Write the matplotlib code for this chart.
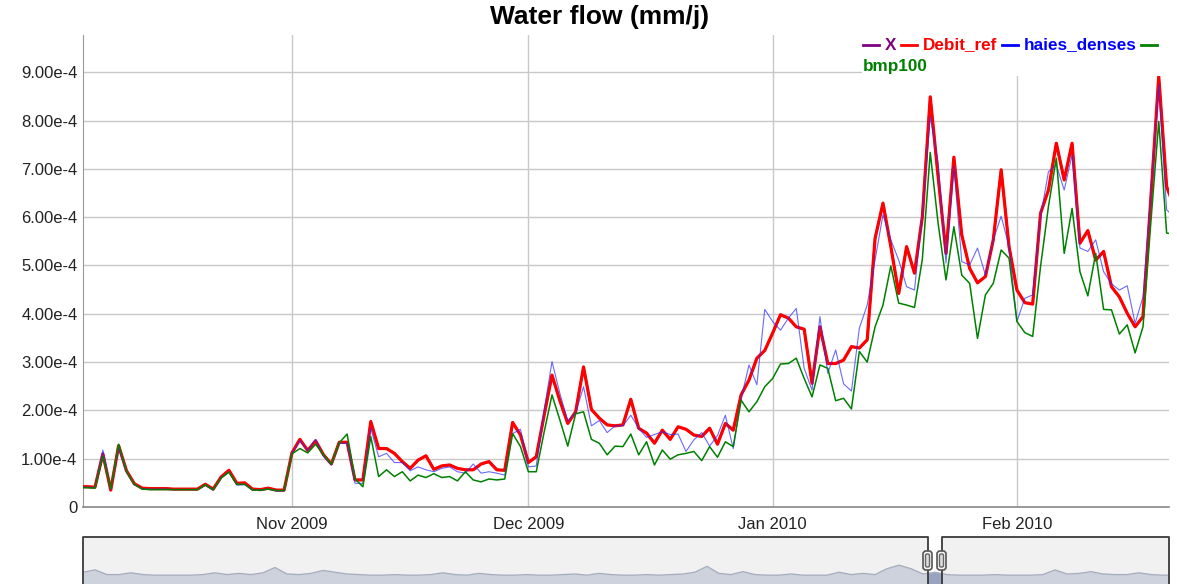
import matplotlib
matplotlib.use("Agg")
import matplotlib.pyplot as plt
import matplotlib.dates as mdates
from matplotlib.lines import Line2D
from matplotlib.patches import Rectangle, FancyBboxPatch
from matplotlib.transforms import IdentityTransform
import numpy as np
import pandas as pd

plt.rcParams['font.family'] = ['Liberation Sans', 'DejaVu Sans']

# daily values, in units of 1e-4 mm/j, from 2009-10-05
start_day = '2009-10-05'
debit_ref = [
    0.42, 0.42, 0.41, 1.10, 0.35, 1.27, 0.75, 0.48, 0.39, 0.38, 0.38, 0.38, 0.37, 0.37,
    0.37, 0.37, 0.47, 0.37, 0.62, 0.76, 0.49, 0.50, 0.37, 0.36, 0.39, 0.35, 0.35,
    1.12, 1.40, 1.17, 1.37, 1.08, 0.89, 1.34, 1.34, 0.56, 0.56, 1.77, 1.21, 1.21, 1.11,
    0.94, 0.80, 0.97, 1.06, 0.78, 0.85, 0.87, 0.80, 0.77, 0.77, 0.89, 0.94, 0.77, 0.76,
    1.75, 1.49,
    0.92, 1.04, 1.90, 2.73, 2.20, 1.73, 1.97, 2.90, 2.02, 1.84, 1.70, 1.68, 1.70, 2.23,
    1.63, 1.53, 1.32, 1.59, 1.40, 1.66, 1.61, 1.49, 1.46, 1.63, 1.30, 1.73, 1.59, 2.32,
    2.63, 3.08, 3.24,
    3.60, 3.98, 3.91, 3.73, 3.68, 2.56, 3.73, 2.97, 2.97, 3.04, 3.32, 3.29, 3.46, 5.56,
    6.29, 5.39, 4.42, 5.39, 4.84, 6.01, 8.49, 6.84, 5.25, 7.24, 5.63, 4.94, 4.64, 4.77,
    5.53, 6.98, 5.39,
    4.49, 4.23, 4.20, 6.08, 6.56, 7.53, 6.77, 7.53, 5.46, 5.72, 5.11, 5.29, 4.56, 4.35,
    4.01, 3.73, 3.94, 6.40, 8.91, 6.63, 6.20,
]
haies_denses = [
    0.41, 0.41, 0.40, 1.18, 0.36, 1.22, 0.72, 0.46, 0.38, 0.37, 0.37, 0.37, 0.36, 0.36,
    0.36, 0.36, 0.45, 0.35, 0.60, 0.73, 0.45, 0.46, 0.35, 0.35, 0.37, 0.33, 0.33,
    1.12, 1.38, 1.17, 1.40, 1.05, 0.87, 1.32, 1.32, 0.49, 0.49, 1.63, 1.04, 1.11, 0.92,
    0.92, 0.75, 0.83, 0.77, 0.73, 0.80, 0.83, 0.73, 0.70, 0.89, 0.70, 0.73, 0.70, 0.66,
    1.52, 1.61,
    0.83, 0.85, 2.00, 3.01, 2.35, 1.78, 1.95, 2.49, 1.68, 1.79, 1.54, 1.68, 1.68, 1.90,
    1.63, 1.44, 1.50, 1.56, 1.50, 1.51, 1.15, 1.39, 1.54, 1.26, 1.48, 1.90, 1.21, 2.25,
    2.94, 2.53, 4.09,
    3.84, 3.66, 3.91, 4.11, 2.87, 2.42, 3.94, 2.77, 3.25, 2.55, 2.40, 3.70, 4.18, 5.11,
    6.05, 5.53, 5.11, 4.56, 4.49, 6.08, 8.08, 7.12, 5.05, 7.05, 5.08, 5.01, 5.36, 4.80,
    5.53, 6.02, 5.39,
    3.84, 4.32, 4.39, 6.01, 6.94, 7.08, 6.56, 7.29, 5.36, 5.29, 5.53, 4.87, 4.62, 4.49,
    4.58, 3.80, 4.35, 6.50, 8.74, 6.15, 6.00,
]
bmp100 = [
    0.40, 0.40, 0.39, 1.05, 0.38, 1.30, 0.74, 0.47, 0.37, 0.36, 0.36, 0.36, 0.36, 0.36,
    0.36, 0.36, 0.46, 0.36, 0.60, 0.72, 0.47, 0.47, 0.35, 0.35, 0.37, 0.34, 0.34,
    1.10, 1.21, 1.12, 1.30, 1.08, 0.89, 1.33, 1.51, 0.58, 0.42, 1.46, 0.63, 0.77, 0.63,
    0.73, 0.54, 0.66, 0.61, 0.69, 0.61, 0.63, 0.54, 0.73, 0.56, 0.52, 0.58, 0.56, 0.58,
    1.52, 1.25,
    0.73, 0.73, 1.55, 2.32, 1.80, 1.26, 1.93, 1.97, 1.40, 1.32, 1.08, 1.26, 1.25, 1.51,
    1.08, 1.35, 0.87, 1.18, 0.99, 1.08, 1.11, 1.15, 0.96, 1.25, 1.03, 1.35, 1.25, 2.21,
    1.97, 2.18, 2.49,
    2.66, 2.96, 2.97, 3.08, 2.66, 2.28, 2.94, 2.87, 2.20, 2.25, 2.03, 3.22, 3.00, 3.73,
    4.18, 4.99, 4.22, 4.18, 4.13, 5.13, 7.34, 5.87, 4.70, 5.80, 4.80, 4.63, 3.49, 4.39,
    4.63, 5.32, 5.15,
    3.84, 3.61, 3.53, 4.98, 6.22, 7.22, 5.25, 6.18, 4.87, 4.37, 5.25, 4.09, 4.08, 3.58,
    3.77, 3.19, 3.73, 5.90, 7.98, 5.67, 5.65,
]
# X lies under Debit_ref everywhere
x_series = debit_ref

# range selector overview (whole record, relative heights)
overview = [
    1.0, 1.2, 0.8, 0.8, 0.95, 0.8, 0.75, 0.75, 0.75, 0.75, 0.8, 0.95, 0.8, 0.9, 0.8,
    0.95, 1.4, 0.85, 0.8, 0.9, 1.15, 1.0, 0.85, 0.8, 0.75, 0.75, 0.8, 0.75, 0.75, 0.8,
    0.95, 0.8, 0.75, 0.9, 0.8, 0.75, 0.75, 0.8, 0.75, 0.75, 0.8, 0.85, 0.75, 0.9, 0.8,
    0.75, 0.75, 0.8, 0.75, 0.8, 0.85, 1.0, 1.5, 0.9, 0.8, 1.05, 0.8, 0.75, 0.75, 0.85,
    0.75, 0.75, 0.75, 1.0, 0.8, 0.9, 0.8, 1.3, 1.6, 1.3, 0.85, 1.0, 0.8, 0.75, 0.75,
    0.75, 0.8, 0.75, 0.75, 0.75, 0.8, 1.2, 0.85, 0.9, 1.05, 0.85, 0.8, 0.8, 0.95, 0.8,
    0.75, 0.75,
]

y_ticks = [0, 1e-4, 2e-4, 3e-4, 4e-4, 5e-4, 6e-4, 7e-4, 8e-4, 9e-4]
y_labels = ['0', '1.00e-4', '2.00e-4', '3.00e-4', '4.00e-4', '5.00e-4',
            '6.00e-4', '7.00e-4', '8.00e-4', '9.00e-4']

W, H = 1177, 584
pix = IdentityTransform()


def fx(px):
    return px / W


def fy(py):
    return 1 - py / H


fig = plt.figure(figsize=(W / 100, H / 100), dpi=100)
fig.patch.set_facecolor('white')

# main plot
ax = fig.add_axes([fx(83), fy(507), fx(1169) - fx(83), fy(35) - fy(507)])
days = pd.date_range(start_day, periods=len(debit_ref), freq='D')
scale = 1e-4
ax.plot(days, np.array(x_series) * scale, color='#800080', lw=1.5, zorder=3)
ax.plot(days, np.array(debit_ref) * scale, color='#ff0000', lw=2.3, zorder=4,
        solid_joinstyle='round')
ax.plot(days, np.array(haies_denses) * scale, color='#2a2aff', lw=0.8, alpha=0.7, zorder=5)
ax.plot(days, np.array(bmp100) * scale, color='#008000', lw=1.1, zorder=6)

nov1 = pd.Timestamp('2009-11-01')
ax.set_xlim(nov1 - pd.Timedelta(days=26.52), nov1 + pd.Timedelta(days=111.3))
ax.set_ylim(0, 9.77e-4)
ax.set_yticks(y_ticks)
ax.set_yticklabels(y_labels)
ax.xaxis.set_major_locator(mdates.MonthLocator())
ax.xaxis.set_major_formatter(mdates.DateFormatter('%b %Y'))
ax.tick_params(axis='both', length=0, labelsize=12, colors='#222222')
ax.tick_params(axis='y', pad=4)
ax.tick_params(axis='x', pad=7)
ax.grid(True, color='#c8c8c8', lw=1.0)
ax.set_axisbelow(True)
for s in ['top', 'right']:
    ax.spines[s].set_visible(False)
ax.spines['left'].set_color('#999999')
ax.spines['bottom'].set_color('#888888')
ax.spines['bottom'].set_linewidth(1.2)

# title
fig.text(600, H - 17, 'Water flow (mm/j)', transform=pix, ha='center', va='center',
         fontsize=19, fontweight='bold')

# legend
fig.patches.append(Rectangle((862, H - 76), 310, 41, transform=pix,
                             facecolor='white', edgecolor='none', zorder=1))
row1 = H - 45
legend_items = [
    (863, 885, 'X', '#800080'),
    (901, 923, 'Debit_ref', '#ff0000'),
    (1002, 1024, 'haies_denses', '#0000ff'),
    (1141, None, None, '#008000'),
]
for dash_x, text_x, name, col in legend_items:
    fig.lines.append(Line2D([dash_x, dash_x + 16], [row1, row1], transform=pix,
                            color=col, lw=2, zorder=3))
    if name:
        fig.text(text_x, row1, name, transform=pix, ha='left', va='center',
                 fontsize=12.3, fontweight='bold', color=col)
fig.text(863, H - 66, 'bmp100', transform=pix, ha='left', va='center',
         fontsize=12.3, fontweight='bold', color='#008000')

# range selector
mx = fig.add_axes([fx(83), 0, fx(1169) - fx(83), 47 / H])
idx = np.arange(len(overview))
mx.set_xlim(0, 1086 / 12)
mx.set_ylim(0, 4)
mx.set_facecolor('#f1f1f1')
sel0, sel1 = (928 - 83) / 12, (942 - 83) / 12
mx.axvspan(sel0, sel1, color='white', lw=0, zorder=0.5)
mx.fill_between(idx, 0, overview, color='#ced2dc', lw=0, zorder=1)
mx.plot(idx, overview, color='#a7aebf', lw=1, zorder=2)
dark = mx.fill_between(idx, 0, overview, color='#98a3bf', lw=0, zorder=3)
dark.set_clip_path(Rectangle((sel0, 0), sel1 - sel0, 4, transform=mx.transData))
mx.set_xticks([])
mx.set_yticks([])
for s in mx.spines.values():
    s.set_visible(False)

frame_col = '#3a3a3a'
fig.lines.append(Line2D([83, 83, 928, 928], [0, H - 537, H - 537, 0], transform=pix,
                        color=frame_col, lw=1.3, zorder=4))
fig.lines.append(Line2D([942, 942, 1169, 1169], [0, H - 537, H - 537, 0], transform=pix,
                        color=frame_col, lw=1.3, zorder=4))
for hx in [923, 937]:
    fig.patches.append(FancyBboxPatch((hx, H - 570), 9, 19, transform=pix,
                                      boxstyle='round,pad=0,rounding_size=3',
                                      facecolor='#f4f4f4', edgecolor='#555555', lw=1.2,
                                      zorder=5))
    fig.patches.append(FancyBboxPatch((hx + 2.5, H - 567), 4, 13, transform=pix,
                                      boxstyle='round,pad=0,rounding_size=1.5',
                                      facecolor='#dddddd', edgecolor='#666666', lw=1,
                                      zorder=6))

fig.savefig('out.png', dpi=100)
